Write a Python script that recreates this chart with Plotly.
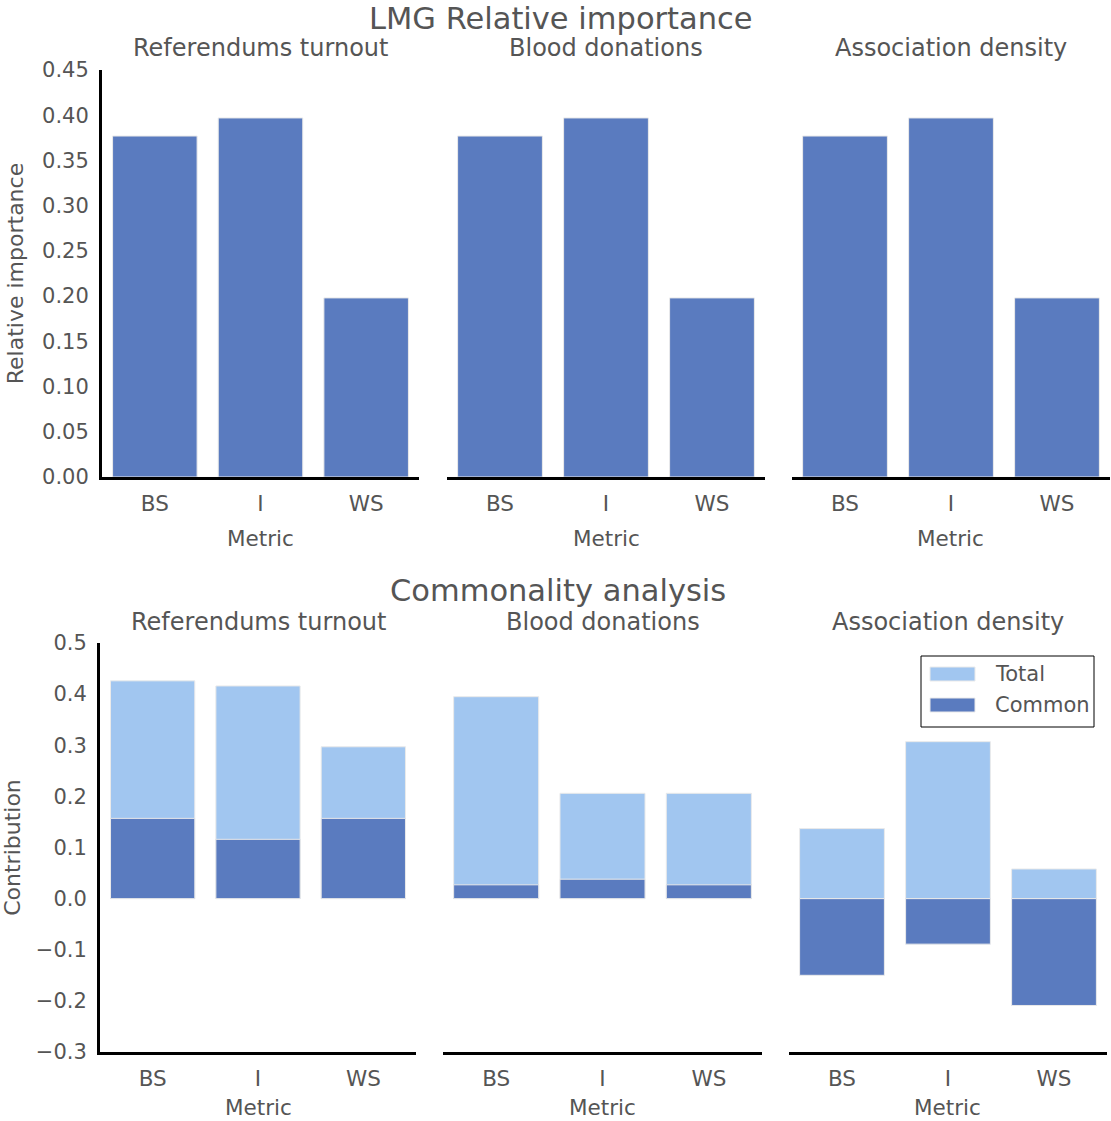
import plotly.graph_objects as go

W, H = 1111, 1121

metrics = ["BS", "I", "WS"]
outcomes = ["Referendums turnout", "Blood donations", "Association density"]

# LMG relative importance (same for each outcome)
lmg = {
    "Referendums turnout": [0.377, 0.397, 0.198],
    "Blood donations": [0.377, 0.397, 0.198],
    "Association density": [0.377, 0.397, 0.198],
}

# commonality analysis
total = {
    "Referendums turnout": [0.426, 0.416, 0.297],
    "Blood donations": [0.395, 0.206, 0.206],
    "Association density": [0.137, 0.307, 0.058],
}
common = {
    "Referendums turnout": [0.157, 0.116, 0.157],
    "Blood donations": [0.027, 0.038, 0.027],
    "Association density": [-0.150, -0.089, -0.209],
}

top_ticks = [0.0, 0.05, 0.10, 0.15, 0.20, 0.25, 0.30, 0.35, 0.40, 0.45]
top_ticktext = ["0.00", "0.05", "0.10", "0.15", "0.20", "0.25", "0.30", "0.35", "0.40", "0.45"]
bot_ticks = [-0.3, -0.2, -0.1, 0.0, 0.1, 0.2, 0.3, 0.4, 0.5]
bot_ticktext = ["\u22120.3", "\u22120.2", "\u22120.1", "0.0", "0.1", "0.2", "0.3", "0.4", "0.5"]

DARK = "#5a7bbf"
LIGHT = "#a1c6f0"
EDGE = "#eaeaea"
TXT = "#555555"
FONT = "DejaVu Sans"


def px_x(a, b):
    return [a / W, b / W]


def px_y(top, bottom):
    return [1 - bottom / H, 1 - top / H]


top_x = [px_x(102, 419), px_x(447, 765), px_x(792, 1110)]
bot_x = [px_x(100, 416), px_x(443, 762), px_x(789, 1107)]
top_y = px_y(70, 477)
bot_y = px_y(643, 1052)

fig = go.Figure()
layout = {}

for i, name in enumerate(outcomes):
    # top row
    n = i + 1
    fig.add_trace(go.Bar(x=metrics, y=lmg[name], xaxis=f"x{n}", yaxis=f"y{n}",
                         marker=dict(color=DARK, line=dict(color=EDGE, width=1)),
                         width=0.8, showlegend=False))
    # bottom row: total behind, common on top
    m = i + 4
    fig.add_trace(go.Bar(x=metrics, y=total[name], xaxis=f"x{m}", yaxis=f"y{m}", name="Total",
                         marker=dict(color=LIGHT, line=dict(color=EDGE, width=1)),
                         width=0.8, showlegend=False))
    fig.add_trace(go.Bar(x=metrics, y=common[name], xaxis=f"x{m}", yaxis=f"y{m}", name="Common",
                         marker=dict(color=DARK, line=dict(color=EDGE, width=1)),
                         width=0.8, showlegend=False))

    for k, (dom_x, dom_y, ticks, ttext, rng) in enumerate([
        (top_x[i], top_y, top_ticks, top_ticktext, [0, 0.45]),
        (bot_x[i], bot_y, bot_ticks, bot_ticktext, [-0.3, 0.5]),
    ]):
        idx = n if k == 0 else m
        xkey = "xaxis" if idx == 1 else f"xaxis{idx}"
        ykey = "yaxis" if idx == 1 else f"yaxis{idx}"
        layout[xkey] = dict(
            domain=dom_x, anchor=f"y{idx}", range=[-0.5, 2.5], automargin=False,
            showline=True, linecolor="black", linewidth=3, showgrid=False, zeroline=False,
            ticks="outside", ticklen=5, tickcolor="rgba(0,0,0,0)",
            tickfont=dict(family=FONT, size=21.5, color=TXT),
            fixedrange=True,
        )
        layout[ykey] = dict(
            domain=dom_y, anchor=f"x{idx}", range=rng, automargin=False,
            showline=(i == 0), linecolor="black", linewidth=3, showgrid=False, zeroline=False,
            tickvals=ticks, ticktext=ttext, showticklabels=(i == 0),
            ticks="outside" if i == 0 else "", ticklen=6, tickcolor="rgba(0,0,0,0)",
            tickfont=dict(family=FONT, size=21, color=TXT),
            fixedrange=True,
        )

layout["yaxis"]["title"] = dict(text="Relative importance",
                                font=dict(family=FONT, size=22, color=TXT), standoff=13)
layout["yaxis4"]["title"] = dict(text="Contribution",
                                 font=dict(family=FONT, size=22, color=TXT), standoff=22)


def ann(text, x, y, size, xanchor="center"):
    return dict(text=text, x=x / W, y=1 - y / H, xref="paper", yref="paper",
                xanchor=xanchor, yanchor="middle", showarrow=False,
                font=dict(family=FONT, size=size, color=TXT))


annotations = [
    ann("LMG Relative importance", 561, 18, 30.5),
    ann("Commonality analysis", 558, 590, 30.5),
]
for i, name in enumerate(outcomes):
    annotations.append(ann(name, sum(top_x[i]) / 2 * W, 48, 24))
    annotations.append(ann(name, sum(bot_x[i]) / 2 * W, 622, 24))
    annotations.append(ann("Metric", sum(top_x[i]) / 2 * W, 538, 21.5))
    annotations.append(ann("Metric", sum(bot_x[i]) / 2 * W, 1107, 21.5))

# legend drawn by hand so the patches match the wide matplotlib style
legend_items = [("Total", LIGHT), ("Common", DARK)]
shapes = [dict(type="rect", xref="paper", yref="paper",
               x0=921 / W, x1=1094 / W, y0=1 - 727 / H, y1=1 - 656 / H,
               line=dict(color="black", width=1), fillcolor="white", layer="above")]
for j, (label, col) in enumerate(legend_items):
    yc = 674 + j * 31
    shapes.append(dict(type="rect", xref="paper", yref="paper",
                       x0=930 / W, x1=975 / W, y0=1 - (yc + 7) / H, y1=1 - (yc - 7) / H,
                       line=dict(color=EDGE, width=1), fillcolor=col, layer="above"))
    annotations.append(ann(label, 993, yc, 21, xanchor="left"))

fig.update_layout(
    **layout,
    annotations=annotations,
    shapes=shapes,
    barmode="overlay",
    width=W, height=H,
    margin=dict(l=0, r=0, t=0, b=0, autoexpand=False),
    paper_bgcolor="white", plot_bgcolor="white",
    font=dict(family=FONT, color=TXT),
    showlegend=False,
)

# drop the default page margin so the figure sits at the window's corner
fig.write_html("out.html", config={"displayModeBar": False},
               post_script="document.body.style.margin='0';")
